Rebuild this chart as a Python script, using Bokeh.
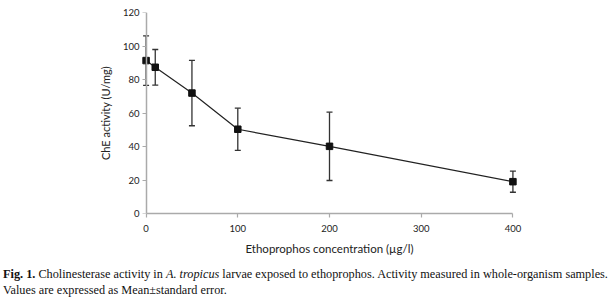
from bokeh.plotting import figure
from bokeh.models import ColumnDataSource, Whisker, TeeHead, Div, FixedTicker, Range1d, LinearAxis
from bokeh.layouts import column
from bokeh.embed import file_html
from bokeh.resources import INLINE

conc = [0, 10, 50, 100, 200, 400]
activity = [91.3, 87.3, 71.9, 50.3, 40.1, 19.0]
sem = [14.8, 10.6, 19.5, 12.6, 20.4, 6.3]
x_ticks = [0, 100, 200, 300, 400]
y_ticks = [0, 20, 40, 60, 80, 100, 120]

src = ColumnDataSource(dict(
    x=conc, y=activity,
    upper=[a + e for a, e in zip(activity, sem)],
    lower=[a - e for a, e in zip(activity, sem)],
))

AX = "#aaaaaa"

p = figure(width=597, height=262, output_backend="svg", toolbar_location=None,
           x_range=Range1d(-5, 405), y_range=Range1d(0, 120),
           min_border_left=141, min_border_right=80, min_border_top=12, min_border_bottom=49)
p.outline_line_color = None
p.grid.visible = False
p.background_fill_color = "white"

w = Whisker(source=src, base="x", upper="upper", lower="lower",
            line_color="#333333", line_width=1.3,
            upper_head=TeeHead(size=6, line_color="#333333", line_width=1.3),
            lower_head=TeeHead(size=6, line_color="#333333", line_width=1.3))
p.add_layout(w)
p.line("x", "y", source=src, line_color="#222222", line_width=1.2)
p.scatter("x", "y", source=src, marker="square", size=6.5, fill_color="#111111", line_color="#111111")

for ax in (p.xaxis[0], p.yaxis[0]):
    ax.axis_line_color = AX
    ax.axis_line_width = 1.5
    ax.major_tick_line_color = AX
    ax.major_tick_line_width = 1.2
    ax.major_tick_out = 4
    ax.major_tick_in = 0
    ax.minor_tick_line_color = None
    ax.major_label_text_font = "Lato"
    ax.major_label_text_font_size = "9.5px"
    ax.major_label_text_color = "#222222"
    ax.axis_label_text_font = "Lato"
    ax.axis_label_text_font_style = "normal"
    ax.axis_label_text_color = "#222222"

p.xaxis.ticker = FixedTicker(ticks=x_ticks)
p.yaxis.ticker = FixedTicker(ticks=y_ticks)
p.xaxis.bounds = (0, 400)
p.xaxis.axis_label = "Ethoprophos concentration (µg/l)"
p.xaxis.axis_label_text_font_size = "11.5px"
p.xaxis.major_label_standoff = 7
p.xaxis.axis_label_standoff = 7

# y labels only (the frame edge sits slightly left of x=0)
p.yaxis.axis_line_color = None
p.yaxis.major_tick_line_color = None
p.yaxis.major_tick_out = 0
p.yaxis.axis_label = "ChE activity (U/mg)"
p.yaxis.axis_label_text_font_size = "11px"
p.yaxis.major_label_standoff = 2
p.yaxis.axis_label_standoff = 8

# y axis line and ticks drawn at x = 0
yline = LinearAxis(fixed_location=0, ticker=FixedTicker(ticks=y_ticks), bounds=(0, 120),
                   axis_line_color=AX, axis_line_width=1.5,
                   major_tick_line_color=AX, major_tick_line_width=1.2,
                   major_tick_in=4, major_tick_out=0, minor_tick_line_color=None,
                   major_label_text_color=None)
p.add_layout(yline, "right")

cap = Div(text='<b>Fig. 1.</b> Cholinesterase activity in <i>A. tropicus</i> larvae exposed to ethoprophos. '
               'Activity measured in whole-organism samples.<br>Values are expressed as Mean±standard error.',
          width=610, margin=(4, 0, 0, 3),
          styles={"font-family": "Liberation Serif", "font-size": "12.25px", "line-height": "16px",
                  "color": "#111111", "white-space": "nowrap"})

layout = column(p, cap, spacing=0)
open("out.html", "w").write(file_html(layout, INLINE))
